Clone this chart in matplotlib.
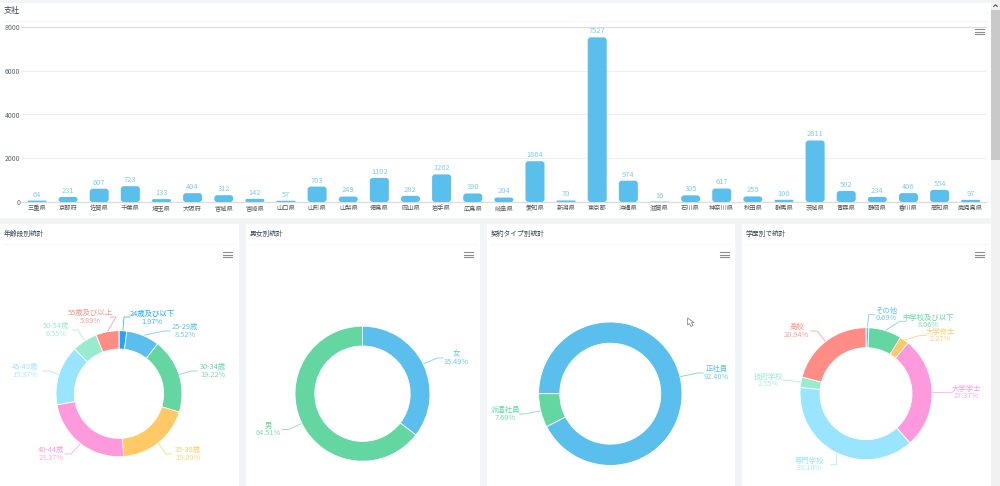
import matplotlib
matplotlib.use("Agg")
import matplotlib.pyplot as plt
import numpy as np
from matplotlib.patches import FancyBboxPatch, Polygon, Rectangle

plt.rcParams["font.family"] = ["Noto Sans CJK JP", "DejaVu Sans"]

W, H = 1000, 486

prefectures = ["三重県", "京都府", "佐賀県", "千葉県", "埼玉県", "大阪府", "宮城県", "宮崎県",
               "山口県", "山形県", "山梨県", "徳島県", "岡山県", "岩手県", "広島県", "岐阜県",
               "愛知県", "新潟県", "東京都", "沖縄県", "滋賀県", "石川県", "神奈川県", "秋田県",
               "群馬県", "茨城県", "青森県", "静岡県", "香川県", "高知県", "鹿児島県"]
branch_counts = [64, 231, 607, 723, 133, 404, 312, 142, 57, 703, 249, 1102, 282, 1262, 390, 204,
                 1864, 70, 7527, 974, 16, 305, 617, 255, 100, 2811, 502, 234, 406, 554, 97]
y_ticks = [0, 2000, 4000, 6000, 8000]

age_names = ["24歳及び以下", "25-29歳", "30-34歳", "35-39歳", "40-44歳", "45-49歳", "50-54歳", "55歳及び以上"]
age_shares = [1.97, 8.52, 19.22, 19.09, 23.37, 15.37, 6.55, 5.89]
sex_names = ["女", "男"]
sex_shares = [35.49, 64.51]
contract_names = ["正社員", "派遣社員"]
contract_shares = [92.40, 7.60]
school_names = ["その他", "中学校及び以下", "大学修士", "大学学士", "専門学校", "技術学校", "高校"]
school_shares = [0.69, 8.06, 2.27, 27.37, 38.10, 2.55, 20.94]

BLUE, GREEN, YELLOW, PINK = "#5bbfee", "#64d6a2", "#ffc966", "#ff99dd"
SKY, MINT, SALMON = "#99e5ff", "#99ebd0", "#ff8c85"
age_colors = ["#1fa5ff", BLUE, GREEN, YELLOW, PINK, SKY, MINT, SALMON]
base_colors = [BLUE, GREEN, YELLOW, PINK, SKY, MINT, SALMON]


def pixel_axes(fig, left, top, right, bottom):
    return fig.add_axes([left / W, 1 - bottom / H, (right - left) / W, (bottom - top) / H])


fig = plt.figure(figsize=(W / 100, H / 100), dpi=100, facecolor="#f2f5f7")

# overlay in pixel coordinates for the panels, titles and leader lines
page = fig.add_axes([0, 0, 1, 1], zorder=0)
page.set_xlim(0, W)
page.set_ylim(H, 0)
page.axis("off")

panels = [(0, 3, 991, 218), (0, 224, 239, 486), (246, 224, 480, 486),
          (487, 224, 735, 486), (742, 224, 991, 486)]
for x0, y0, x1, y1 in panels:
    page.add_patch(Rectangle((x0, y0), x1 - x0, y1 - y0, fc="white", ec="none"))
    title_rule = y0 + 18 if y0 < 10 else y0 + 20
    page.plot([x0 + 3, x1 - 3], [title_rule, title_rule], color="#f6f6f6", lw=0.7)

titles = [("支社", 4, 11, 5.8), ("年齢段別統計", 4, 234, 4.9), ("男女別統計", 250, 234, 4.9),
          ("契約タイプ別統計", 491, 234, 4.9), ("学歴別で統計", 746, 234, 4.9)]
for text, x, y, size in titles:
    page.text(x, y, text, fontsize=size, color="#3a4656", va="center", ha="left")

for x0, y0 in [(975, 29), (223, 252), (464, 252), (720, 252), (975, 252)]:
    for dy in (0, 2.7, 5.4):
        page.plot([x0, x0 + 8.5], [y0 + dy, y0 + dy], color="#8c8c8c", lw=0.8)

# scrollbar and the stray cursor
page.add_patch(Rectangle((991, 0), 9, H, fc="#f1f1f1", ec="none"))
page.add_patch(Rectangle((991, 10), 9, 150, fc="#c9c9c9", ec="none"))
page.plot([993.8, 995.5, 997.2], [6.4, 4.8, 6.4], color="#505050", lw=0.8)
page.add_patch(Polygon([(687.5, 318), (687.5, 325), (689.5, 323.5), (691, 326.5),
                        (693, 325.5), (691.5, 322.5), (694, 322.5)],
                       fc="white", ec="#777777", lw=0.5))

# bar chart
ax = pixel_axes(fig, 21.4, 27, 986.3, 202)
ax.set_zorder(1)
ax.patch.set_alpha(0)
x = np.arange(len(prefectures))
ax.set_xlim(-0.5, len(prefectures) - 0.5)
ax.set_ylim(0, 8000)
px_x = 965 / len(prefectures)
px_y = 8000 / 175
for xi, value in zip(x, branch_counts):
    radius = min(3, value / px_y / 2) / px_x
    ax.add_patch(FancyBboxPatch((xi - 9.5 / px_x, 0), 19 / px_x, value,
                                boxstyle=f"round,pad=0,rounding_size={radius}",
                                mutation_aspect=px_y * px_x, fc=BLUE, ec="none", zorder=3))
    ax.annotate(str(value), (xi, value), xytext=(0, 1.5), textcoords="offset points",
                ha="center", va="bottom", fontsize=5.4, color="#7ccdf2", zorder=4)
ax.set_xticks(x, prefectures, fontsize=4.5, color="#555555")
ax.set_yticks(y_ticks, [str(t) for t in y_ticks], fontsize=5, color="#5a6470")
ax.tick_params(length=0, pad=1)
ax.tick_params(axis="x", pad=1.5)
ax.grid(axis="y", color="#eeeeee", lw=0.8)
ax.set_axisbelow(True)
for name in ("right", "left"):
    ax.spines[name].set_visible(False)
ax.spines["top"].set_color("#dddddd")
ax.spines["bottom"].set_color("#dddddd")
ax.spines["bottom"].set_linewidth(0.9)

# donuts: start angle, centre x, centre y, outer radius, inner radius, label block centres and leader ends
donuts = [
    (age_names, age_shares, age_colors, 90, 119, 393.7, 63, 44.7,
     [(152, 318), (185, 331), (213, 371), (188, 454), (51, 454), (25, 371), (56, 330), (90, 317)],
     [(130, 317), (170, 331), (197, 371), (171.7, 454), (65, 454), (43, 371), (72, 330), (110, 317)]),
    (sex_names, sex_shares, base_colors, 90, 362.5, 393.7, 67.5, 47.7,
     [(456, 358), (268.3, 429.5)],
     [(443.3, 358), (282.3, 429.5)]),
    (contract_names, contract_shares, base_colors, 180, 610.3, 393.7, 71.7, 50.5,
     [(716.3, 373), (505.7, 414)],
     [(703.3, 373), (519.3, 414)]),
    (school_names, school_shares, base_colors, 90, 866, 393.7, 66, 46,
     [(886, 314.7), (928.3, 321.3), (940, 335.5), (966, 392.7), (809.3, 464.7), (768, 380.3), (796.7, 331)],
     [(874.7, 314.7), (905.7, 321.3), (926, 335.5), (952.3, 392.7), (830.7, 464.7), (783.3, 380.3), (811, 331)]),
]
for names, shares, colors, start, cx, cy, outer, inner, label_xy, leader_end in donuts:
    pie_ax = pixel_axes(fig, cx - outer, cy - outer, cx + outer, cy + outer)
    pie_ax.set_zorder(1)
    wedges, _ = pie_ax.pie(shares, colors=colors, startangle=start, counterclock=False, radius=1,
                           wedgeprops={"width": 1 - inner / outer, "edgecolor": "white", "linewidth": 0.6})
    pie_ax.set_xlim(-1, 1)
    pie_ax.set_ylim(-1, 1)
    for i, wedge in enumerate(wedges):
        angle = np.radians((wedge.theta1 + wedge.theta2) / 2)
        sx, sy = cx + outer * np.cos(angle), cy - outer * np.sin(angle)
        ex, ey = leader_end[i]
        elbow = ex - 6 if ex > cx else ex + 6
        page.plot([sx, elbow, ex], [sy, ey, ey], color=colors[i], lw=0.6, alpha=0.8)
        lx, ly = label_xy[i]
        page.text(lx, ly - 3.7, names[i], fontsize=5.3, color=colors[i], ha="center", va="center")
        page.text(lx, ly + 3.7, f"{shares[i]:.2f}%", fontsize=5.3, color=colors[i], ha="center",
                  va="center", alpha=0.85)

fig.savefig("out.png", dpi=100, facecolor=fig.get_facecolor())
